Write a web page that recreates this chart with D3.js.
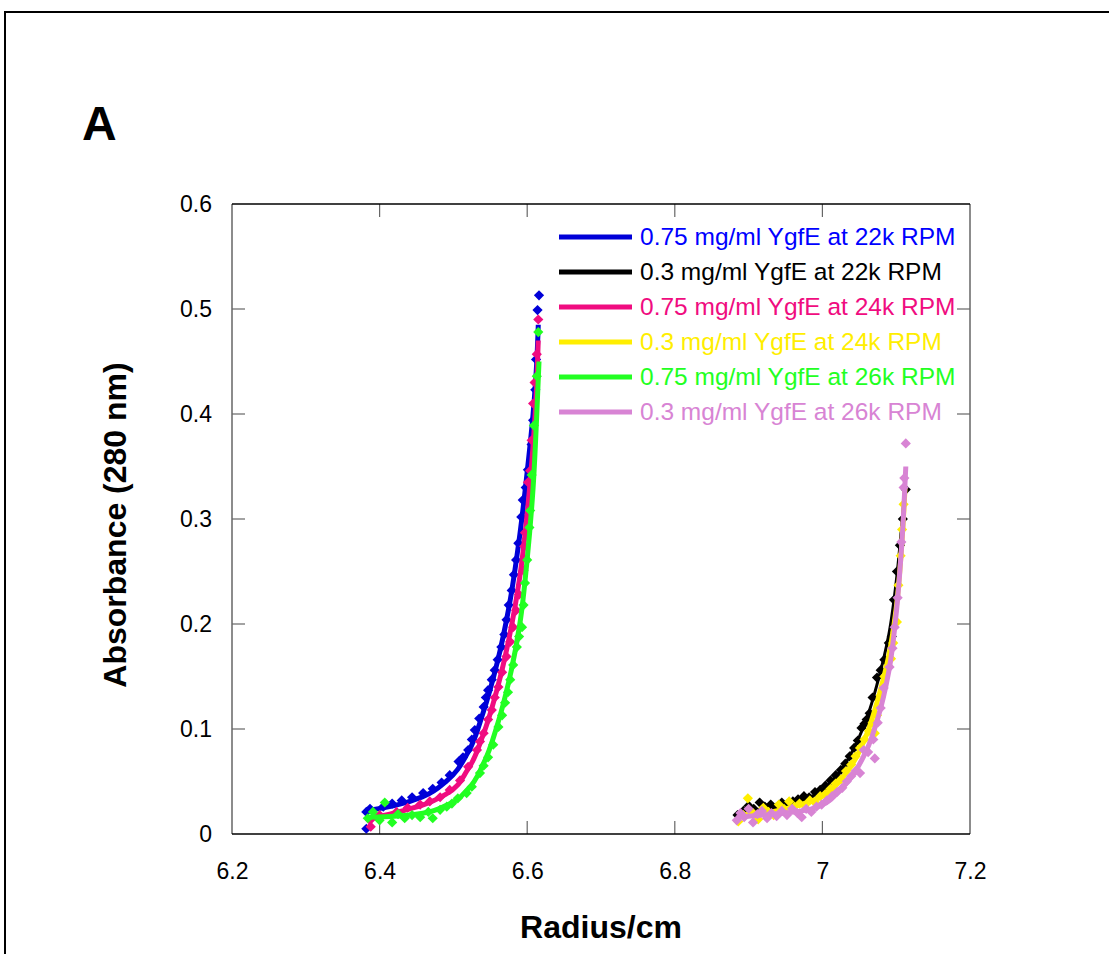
<!DOCTYPE html>
<html>
<head>
<meta charset="utf-8">
<script src="https://cdn.jsdelivr.net/npm/d3@7"></script>
<style>
  body { margin: 0; background: #fff; }
  svg { display: block; font-family: Arial, "Liberation Sans", sans-serif; }
</style>
</head>
<body>
<svg id="chart" width="1109" height="954"></svg>
<script>
// Подписи серий и цвета
const seriesNames = [
    '0.75 mg/ml YgfE at 22k RPM',
    '0.3 mg/ml YgfE at 22k RPM',
    '0.75 mg/ml YgfE at 24k RPM',
    '0.3 mg/ml YgfE at 24k RPM',
    '0.75 mg/ml YgfE at 26k RPM',
    '0.3 mg/ml YgfE at 26k RPM'
];
const seriesColors = ['#0000d8', '#000000', '#f00c80', '#ffee00', '#22ff22', '#d884d4'];

const xTicks = [6.2, 6.4, 6.6, 6.8, 7, 7.2];
const yTicks = [0, 0.1, 0.2, 0.3, 0.4, 0.5, 0.6];

// Точки (радиус, поглощение)
const pts075_22k = [
    [6.382, 0.005], [6.382, 0.021], [6.387, 0.024], [6.405, 0.026], [6.417, 0.029],
    [6.430, 0.032], [6.444, 0.035], [6.459, 0.039], [6.472, 0.043], [6.484, 0.049],
    [6.495, 0.056], [6.507, 0.069], [6.513, 0.073], [6.520, 0.080], [6.525, 0.090],
    [6.529, 0.099], [6.535, 0.110], [6.541, 0.121], [6.544, 0.130], [6.547, 0.137],
    [6.552, 0.147], [6.556, 0.156], [6.560, 0.166], [6.565, 0.178], [6.569, 0.190],
    [6.572, 0.204], [6.575, 0.218], [6.579, 0.232], [6.582, 0.247], [6.585, 0.261],
    [6.588, 0.277], [6.592, 0.302], [6.594, 0.318], [6.598, 0.330], [6.601, 0.347],
    [6.606, 0.371], [6.608, 0.394], [6.611, 0.423], [6.612, 0.452], [6.614, 0.499],
    [6.616, 0.513]
];
const pts03_22k = [
    [6.885, 0.018], [6.893, 0.022], [6.900, 0.027], [6.907, 0.024], [6.915, 0.030],
    [6.922, 0.026], [6.930, 0.028], [6.937, 0.025], [6.945, 0.030], [6.952, 0.028],
    [6.960, 0.031], [6.967, 0.033], [6.975, 0.036], [6.982, 0.035], [6.990, 0.040],
    [6.997, 0.042], [7.004, 0.046], [7.011, 0.051], [7.018, 0.056], [7.025, 0.061],
    [7.031, 0.067], [7.037, 0.074], [7.043, 0.082], [7.048, 0.089], [7.053, 0.101],
    [7.057, 0.105], [7.060, 0.109], [7.064, 0.115], [7.068, 0.130], [7.074, 0.149],
    [7.079, 0.156], [7.084, 0.166], [7.090, 0.182], [7.094, 0.188], [7.097, 0.223],
    [7.101, 0.250], [7.105, 0.275], [7.109, 0.300], [7.113, 0.328]
];
const pts075_24k = [
    [6.388, 0.007], [6.387, 0.013], [6.400, 0.018], [6.423, 0.021], [6.438, 0.025],
    [6.455, 0.028], [6.468, 0.031], [6.482, 0.035], [6.495, 0.042], [6.509, 0.051],
    [6.520, 0.064], [6.532, 0.080], [6.536, 0.088], [6.541, 0.096], [6.547, 0.109],
    [6.552, 0.118], [6.556, 0.130], [6.561, 0.140], [6.566, 0.154], [6.572, 0.169],
    [6.577, 0.183], [6.581, 0.197], [6.585, 0.213], [6.589, 0.228], [6.595, 0.251],
    [6.596, 0.274], [6.597, 0.287], [6.601, 0.335], [6.604, 0.346], [6.606, 0.375],
    [6.608, 0.410], [6.610, 0.430], [6.613, 0.457], [6.615, 0.490]
];
const pts03_24k = [
    [6.886, 0.012], [6.893, 0.018], [6.899, 0.034], [6.906, 0.020], [6.913, 0.014],
    [6.920, 0.025], [6.927, 0.021], [6.934, 0.018], [6.941, 0.028], [6.948, 0.024],
    [6.955, 0.031], [6.962, 0.026], [6.969, 0.029], [6.976, 0.027], [6.983, 0.032],
    [6.990, 0.030], [6.997, 0.036], [7.004, 0.038], [7.011, 0.043], [7.018, 0.048],
    [7.025, 0.052], [7.032, 0.060], [7.039, 0.066], [7.045, 0.074], [7.051, 0.082],
    [7.057, 0.090], [7.063, 0.098], [7.068, 0.106], [7.071, 0.096], [7.074, 0.113],
    [7.079, 0.132], [7.084, 0.150], [7.089, 0.160], [7.093, 0.167], [7.096, 0.182],
    [7.101, 0.202], [7.103, 0.237], [7.106, 0.265], [7.108, 0.290], [7.110, 0.314]
];
const pts075_26k = [
    [6.384, 0.015], [6.391, 0.021], [6.400, 0.013], [6.407, 0.030], [6.417, 0.011],
    [6.425, 0.019], [6.434, 0.015], [6.444, 0.018], [6.455, 0.016], [6.466, 0.021],
    [6.472, 0.015], [6.482, 0.023], [6.491, 0.026], [6.498, 0.029], [6.506, 0.034],
    [6.518, 0.039], [6.525, 0.045], [6.536, 0.058], [6.541, 0.065], [6.547, 0.073],
    [6.554, 0.085], [6.561, 0.102], [6.566, 0.113], [6.570, 0.125], [6.574, 0.135],
    [6.577, 0.147], [6.581, 0.161], [6.586, 0.178], [6.589, 0.188], [6.593, 0.197],
    [6.595, 0.218], [6.597, 0.239], [6.600, 0.261], [6.603, 0.292], [6.604, 0.308],
    [6.606, 0.342], [6.609, 0.389], [6.613, 0.436], [6.615, 0.478]
];
const pts03_26k = [
    [6.884, 0.013], [6.889, 0.020], [6.894, 0.016], [6.900, 0.024], [6.906, 0.011],
    [6.912, 0.019], [6.918, 0.022], [6.925, 0.015], [6.931, 0.020], [6.938, 0.017],
    [6.945, 0.022], [6.952, 0.018], [6.959, 0.024], [6.966, 0.020], [6.972, 0.016],
    [6.978, 0.024], [6.985, 0.021], [6.992, 0.026], [6.999, 0.028], [7.006, 0.032],
    [7.013, 0.036], [7.020, 0.040], [7.027, 0.044], [7.033, 0.050], [7.039, 0.055],
    [7.045, 0.060], [7.051, 0.058], [7.056, 0.080], [7.062, 0.078], [7.069, 0.090],
    [7.071, 0.072], [7.075, 0.106], [7.079, 0.120], [7.083, 0.139], [7.091, 0.159],
    [7.095, 0.177], [7.098, 0.197], [7.102, 0.225], [7.107, 0.278], [7.110, 0.330],
    [7.111, 0.339], [7.113, 0.372]
];

// Подгоночные кривые
const fit075_22k = [[6.382, 0.022], [6.42, 0.027], [6.46, 0.036], [6.49, 0.050], [6.52, 0.078], [6.54, 0.115], [6.56, 0.165], [6.575, 0.215], [6.59, 0.285], [6.60, 0.345], [6.608, 0.40], [6.613, 0.45], [6.615, 0.485]];
const fit03_22k = [[6.885, 0.020], [6.92, 0.023], [6.95, 0.027], [6.98, 0.034], [7.00, 0.042], [7.02, 0.056], [7.04, 0.078], [7.06, 0.110], [7.075, 0.145], [7.09, 0.19], [7.10, 0.24], [7.107, 0.29], [7.113, 0.34]];
const fit075_24k = [[6.385, 0.014], [6.42, 0.020], [6.46, 0.028], [6.49, 0.038], [6.52, 0.062], [6.54, 0.094], [6.56, 0.140], [6.575, 0.185], [6.59, 0.245], [6.60, 0.305], [6.608, 0.37], [6.613, 0.43], [6.615, 0.47]];
const fit03_24k = [[6.886, 0.018], [6.92, 0.020], [6.95, 0.024], [6.98, 0.030], [7.00, 0.036], [7.02, 0.048], [7.04, 0.066], [7.06, 0.095], [7.075, 0.128], [7.09, 0.17], [7.10, 0.215], [7.107, 0.27], [7.112, 0.33]];
const fit075_26k = [[6.385, 0.016], [6.42, 0.017], [6.46, 0.020], [6.49, 0.027], [6.52, 0.043], [6.54, 0.066], [6.56, 0.105], [6.575, 0.145], [6.59, 0.20], [6.60, 0.262], [6.608, 0.33], [6.613, 0.40], [6.616, 0.45]];
const fit03_26k = [[6.884, 0.016], [6.92, 0.018], [6.95, 0.020], [6.98, 0.023], [7.00, 0.028], [7.02, 0.039], [7.04, 0.055], [7.06, 0.080], [7.075, 0.11], [7.09, 0.155], [7.10, 0.21], [7.107, 0.27], [7.113, 0.35]];

const seriesPoints = [pts075_22k, pts03_22k, pts075_24k, pts03_24k, pts075_26k, pts03_26k];
const seriesFits = [fit075_22k, fit03_22k, fit075_24k, fit03_24k, fit075_26k, fit03_26k];

const svg = d3.select('#chart');
const margin = { left: 232, right: 139, top: 204, bottom: 120 };
const width = 1109, height = 954;

const x = d3.scaleLinear().domain([6.2, 7.2]).range([margin.left, width - margin.right]);
const y = d3.scaleLinear().domain([0, 0.6]).range([height - margin.bottom, margin.top]);

// Рамка вокруг рисунка
svg.append('path')
    .attr('d', `M5,${height} L5,12 L${width},12`)
    .attr('fill', 'none')
    .attr('stroke', '#000')
    .attr('stroke-width', 2);

// Метка панели
svg.append('text')
    .attr('x', 82).attr('y', 140)
    .attr('font-size', 48).attr('font-weight', 'bold')
    .text('A');

// Оси
const tickLen = 13;
const axisColor = '#666';
const fontSize = 23;

const gx = svg.append('g').attr('transform', `translate(0,${y(0)})`)
    .call(d3.axisBottom(x).tickValues(xTicks).tickSize(0).tickPadding(29).tickFormat(d3.format('')));
gx.select('.domain').remove();
gx.selectAll('text').attr('font-size', fontSize).attr('font-family', 'Arial, "Liberation Sans", sans-serif').attr('fill', '#000');

const gy = svg.append('g').attr('transform', `translate(${x(6.2)},0)`)
    .call(d3.axisLeft(y).tickValues(yTicks).tickSize(0).tickPadding(20).tickFormat(d3.format('')));
gy.select('.domain').remove();
gy.selectAll('text').attr('font-size', fontSize).attr('font-family', 'Arial, "Liberation Sans", sans-serif').attr('fill', '#000');

// Засечки внутрь
const ticks = svg.append('g').attr('stroke', axisColor).attr('stroke-width', 1.2);
yTicks.slice(1, -1).forEach(v => {
    ticks.append('line').attr('x1', x(6.2)).attr('x2', x(6.2) + tickLen).attr('y1', y(v)).attr('y2', y(v));
    ticks.append('line').attr('x1', x(7.2)).attr('x2', x(7.2) - tickLen).attr('y1', y(v)).attr('y2', y(v));
});
xTicks.slice(1, -1).forEach(v => {
    ticks.append('line').attr('x1', x(v)).attr('x2', x(v)).attr('y1', y(0)).attr('y2', y(0) - tickLen);
    ticks.append('line').attr('x1', x(v)).attr('x2', x(v)).attr('y1', y(0.6)).attr('y2', y(0.6) + tickLen);
});

// Рамка графика
svg.append('line').attr('x1', x(6.2)).attr('x2', x(6.2)).attr('y1', y(0)).attr('y2', y(0.6)).attr('stroke', axisColor).attr('stroke-width', 1.5);
svg.append('line').attr('x1', x(7.2)).attr('x2', x(7.2)).attr('y1', y(0)).attr('y2', y(0.6)).attr('stroke', axisColor).attr('stroke-width', 1.5);
svg.append('line').attr('x1', x(6.2)).attr('x2', x(7.2)).attr('y1', y(0)).attr('y2', y(0)).attr('stroke', '#000').attr('stroke-width', 1.5);
svg.append('line').attr('x1', x(6.2)).attr('x2', x(7.2)).attr('y1', y(0.6)).attr('y2', y(0.6)).attr('stroke', '#000').attr('stroke-width', 1.5);

// Подписи осей
svg.append('text')
    .attr('x', x(6.7)).attr('y', 938)
    .attr('text-anchor', 'middle')
    .attr('font-size', 32).attr('font-weight', 'bold')
    .text('Radius/cm');

svg.append('text')
    .attr('transform', `translate(126,525) rotate(-90)`)
    .attr('text-anchor', 'middle')
    .attr('font-size', 32).attr('font-weight', 'bold')
    .text('Absorbance (280 nm)');

// Серии: линия + ромбы (квадрат, повернутый на 45°)
const line = d3.line().x(d => x(d[0])).y(d => y(d[1])).curve(d3.curveMonotoneY);
const diamond = d3.symbol().type(d3.symbolSquare).size(52);

seriesPoints.forEach((pts, i) => {
    const g = svg.append('g');
    g.append('path')
        .datum(seriesFits[i])
        .attr('d', line)
        .attr('fill', 'none')
        .attr('stroke', seriesColors[i])
        .attr('stroke-width', i === 1 ? 3 : 5);
    g.selectAll('path.pt')
        .data(pts)
        .enter().append('path')
        .attr('class', 'pt')
        .attr('d', diamond)
        .attr('transform', d => `translate(${x(d[0])},${y(d[1])}) rotate(45)`)
        .attr('fill', seriesColors[i]);
});

// Легенда
const legend = svg.append('g');
const legendY = [237, 272, 307, 342, 377, 412];
seriesNames.forEach((name, i) => {
    legend.append('line')
        .attr('x1', 559).attr('x2', 632)
        .attr('y1', legendY[i]).attr('y2', legendY[i])
        .attr('stroke', seriesColors[i])
        .attr('stroke-width', 5);
    legend.append('text')
        .attr('x', 640).attr('y', legendY[i] + 8)
        .attr('font-size', 24.5)
        .attr('fill', i === 0 ? '#0000ff' : seriesColors[i])
        .text(name);
});
</script>
</body>
</html>
